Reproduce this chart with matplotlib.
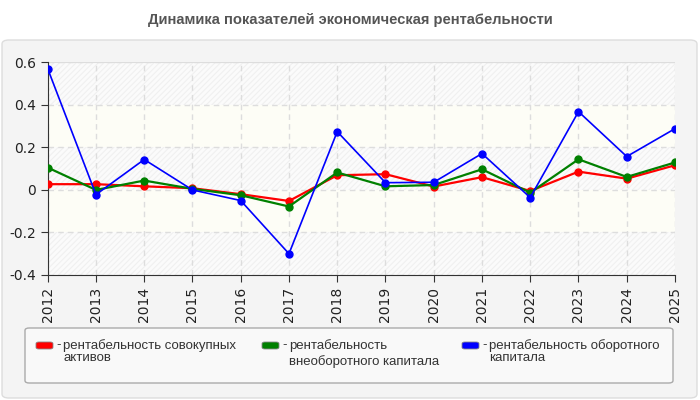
import matplotlib
matplotlib.use("Agg")
import matplotlib.pyplot as plt
from matplotlib.patches import FancyBboxPatch

years = [2012, 2013, 2014, 2015, 2016, 2017, 2018, 2019, 2020, 2021, 2022, 2023, 2024, 2025]
total_assets = [0.027, 0.027, 0.017, 0.008, -0.020, -0.052, 0.069, 0.074, 0.016, 0.060, -0.005, 0.086, 0.053, 0.116]
noncurrent = [0.105, 0.000, 0.044, 0.005, -0.025, -0.078, 0.082, 0.017, 0.023, 0.097, -0.013, 0.144, 0.061, 0.129]
working = [0.570, -0.022, 0.143, 0.000, -0.050, -0.300, 0.274, 0.034, 0.036, 0.171, -0.036, 0.368, 0.157, 0.288]

labels = ["рентабельность совокупных\nактивов",
          "рентабельность\nвнеоборотного капитала",
          "рентабельность оборотного\nкапитала"]
colors = ["#ff0000", "#008000", "#0000ff"]
yticks = [-0.4, -0.2, 0, 0.2, 0.4, 0.6]
ytick_labels = ["-0.4", "-0.2", "0", "0.2", "0.4", "0.6"]

W, H = 700, 400
fig = plt.figure(figsize=(7, 4), dpi=100)
fig.patch.set_facecolor("white")
plt.rcParams["hatch.linewidth"] = 0.8

# grey panel under the title
panel = FancyBboxPatch((2 / W, 2 / H), 695 / W, 358 / H, boxstyle="round,pad=0,rounding_size=0.01",
                       transform=fig.transFigure, facecolor="#f4f4f4", edgecolor="#dddddd", lw=1, zorder=-5)
fig.patches.append(panel)
fig.text(0.5, 1 - 20 / H, "Динамика показателей экономическая рентабельности", ha="center", va="center",
         fontsize=10.6, fontweight="bold", color="#555555", family="Liberation Sans")

ax = fig.add_axes([47.7 / W, 125 / H, (675 - 47.7) / W, (275 - 62.3) / H])
ax.set_zorder(2)
ax.set_facecolor("white")

# striped bands
for i in range(len(yticks) - 1):
    if i % 2 == 0:
        ax.axhspan(yticks[i], yticks[i + 1], facecolor="#fbfbfb", edgecolor="#f0f0f0", hatch="//////", lw=0, zorder=0)
    else:
        ax.axhspan(yticks[i], yticks[i + 1], facecolor="#fdfdf6", lw=0, zorder=0)

lws = [1.6, 1.6, 1.2]
series = [total_assets, noncurrent, working]
for vals, c, lw in zip(series, colors, lws):
    ax.plot(years, vals, color=c, lw=lw, marker="o", markersize=5, zorder=3)

ax.set_xlim(years[0], years[-1])
ax.set_ylim(-0.4, 0.6)
ax.set_xticks(years)
ax.set_xticklabels([str(y) for y in years], rotation=90)
ax.set_yticks(yticks)
ax.set_yticklabels(ytick_labels)
ax.grid(True, ls=(0, (4, 3)), color="#dddddd", lw=1)
ax.set_axisbelow(True)
for s in ["top", "right"]:
    ax.spines[s].set_visible(False)
for s in ["left", "bottom"]:
    ax.spines[s].set_color("#333333")
ax.axhline(0.6, color="#dddddd", lw=1.5, zorder=1)
ax.tick_params(colors="#333333", labelsize=10, length=5)
for t in ax.get_xticklabels() + ax.get_yticklabels():
    t.set_color("#222222")

# legend box
lbox = FancyBboxPatch((25 / W, 17 / H), 648 / W, 55 / H, boxstyle="round,pad=0,rounding_size=0.006",
                      transform=fig.transFigure, facecolor="#f9f9f9", edgecolor="#aaaaaa", lw=1, zorder=1)
fig.patches.append(lbox)
xs = [36, 262, 462]
spacing = [1.0, 1.35, 1.0]
for x, lab, c, sp in zip(xs, labels, colors, spacing):
    sw = FancyBboxPatch((x / W, (400 - 349) / H), 17 / W, 7 / H, boxstyle="round,pad=0,rounding_size=0.004",
                        transform=fig.transFigure, facecolor=c, edgecolor="#888888", lw=0.6, zorder=2)
    fig.patches.append(sw)
    fig.text((x + 20) / W, (400 - 339) / H, "-", ha="left", va="top", fontsize=9.5,
             color="#333333", family="Liberation Sans")
    fig.text((x + 27) / W, (400 - 339) / H, lab, ha="left", va="top", fontsize=9.5,
             color="#333333", family="Liberation Sans", linespacing=sp)

fig.savefig("out.png", dpi=100)
